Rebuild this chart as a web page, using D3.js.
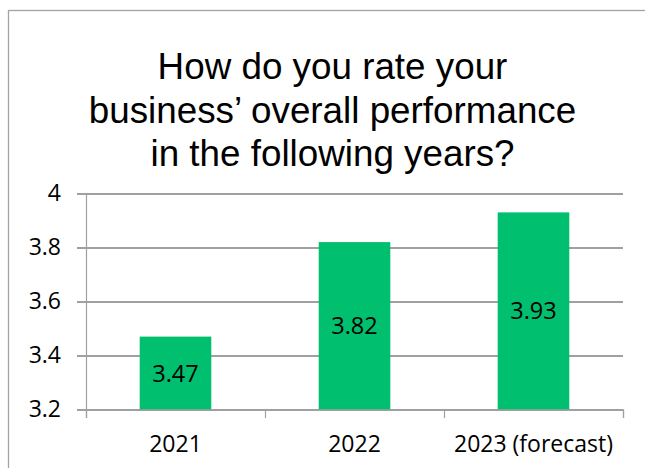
<!DOCTYPE html>
<html>
<head>
<meta charset="utf-8">
<script src="https://cdn.jsdelivr.net/npm/d3@7"></script>
<style>
  html, body { margin: 0; padding: 0; background: #fff; }
  svg { display: block; }
</style>
</head>
<body>
<svg id="chart" width="645" height="468"></svg>
<script>
// Survey results: average self-rated business performance by year
const categories = ["2021", "2022", "2023 (forecast)"];
const ratings = [3.47, 3.82, 3.93];
const yTicks = [3.2, 3.4, 3.6, 3.8, 4];
const titleLines = ["How do you rate your", "business’ overall performance", "in the following years?"];

const svg = d3.select("#chart");
const W = 645, H = 468;
const plotLeft = 86, plotRight = 623, plotTop = 193.5, plotBottom = 409.5;
const labelFont = "'Open Sans', Lato, sans-serif";

// Chart frame
svg.append("rect")
  .attr("x", 8.5).attr("y", 10.5)
  .attr("width", W + 20).attr("height", H + 20)
  .attr("fill", "#fff")
  .attr("stroke", "#a3a3a3")
  .attr("stroke-width", 1.3);

// Title
svg.append("g")
  .selectAll("text")
  .data(titleLines)
  .join("text")
  .attr("x", 332.5)
  .attr("y", (d, i) => 79 + i * 43.5)
  .attr("text-anchor", "middle")
  .attr("font-family", "'Liberation Sans', Arial, sans-serif")
  .attr("font-size", 36.8)
  .attr("fill", "#000")
  .text(d => d);

const y = d3.scaleLinear().domain([3.2, 4]).range([plotBottom, plotTop]);
const x = d3.scaleBand().domain(categories).range([plotLeft, plotRight]).padding(0);
const slot = d3.scaleLinear().domain([0, categories.length]).range([plotLeft, plotRight]);

// Horizontal gridlines
const grid = svg.append("g")
  .attr("transform", `translate(${plotRight},0)`)
  .call(d3.axisLeft(y).tickValues(yTicks).tickSize(plotRight - plotLeft + 9).tickFormat(""));
grid.select(".domain").remove();
grid.selectAll("line").attr("stroke", "#a0a0a0").attr("stroke-width", 1.2).attr("shape-rendering", "crispEdges");

// Bars
const barW = x.bandwidth() * 0.4;
svg.append("g")
  .selectAll("rect")
  .data(categories)
  .join("rect")
  .attr("x", (d) => x(d) + (x.bandwidth() - barW) / 2)
  .attr("y", (d, i) => y(ratings[i]))
  .attr("width", barW)
  .attr("height", (d, i) => y(3.2) - y(ratings[i]))
  .attr("fill", "#00bf6f");

// Value labels at the middle of each bar
svg.append("g")
  .selectAll("text")
  .data(categories)
  .join("text")
  .attr("x", d => x(d) + x.bandwidth() / 2)
  .attr("y", (d, i) => (y(ratings[i]) + y(3.2)) / 2)
  .attr("dy", "0.36em")
  .attr("text-anchor", "middle")
  .attr("font-family", labelFont)
  .attr("font-size", 23.5)
  .attr("fill", "#000")
  .text((d, i) => ratings[i].toFixed(2));

// Value axis
const yAxis = svg.append("g")
  .attr("transform", `translate(${plotLeft},0)`)
  .call(d3.axisLeft(y).tickValues(yTicks).tickSize(9).tickPadding(16)
    .tickFormat(d => d3.format("")(+d.toFixed(1))));
yAxis.select(".domain").attr("stroke", "#a0a0a0").attr("stroke-width", 1.2);
yAxis.selectAll("line").attr("stroke", "#a0a0a0").attr("stroke-width", 1.2);
yAxis.selectAll("text")
  .attr("font-family", labelFont)
  .attr("font-size", 23)
  .attr("fill", "#000");

// Category axis: tick marks between categories
const xTicks = svg.append("g")
  .attr("transform", `translate(0,${plotBottom})`)
  .call(d3.axisBottom(slot).tickValues(d3.range(categories.length + 1)).tickSize(8.5).tickFormat(""));
xTicks.select(".domain").attr("stroke", "#a0a0a0").attr("stroke-width", 1.2);
xTicks.selectAll("line").attr("stroke", "#a0a0a0").attr("stroke-width", 1.2);

// Category labels
const xAxis = svg.append("g")
  .attr("transform", `translate(0,${plotBottom})`)
  .call(d3.axisBottom(x).tickSize(0).tickPadding(0));
xAxis.select(".domain").remove();
xAxis.selectAll("text")
  .attr("y", 42)
  .attr("dy", 0)
  .attr("font-family", labelFont)
  .attr("font-size", 23)
  .attr("fill", "#000");
</script>
</body>
</html>
